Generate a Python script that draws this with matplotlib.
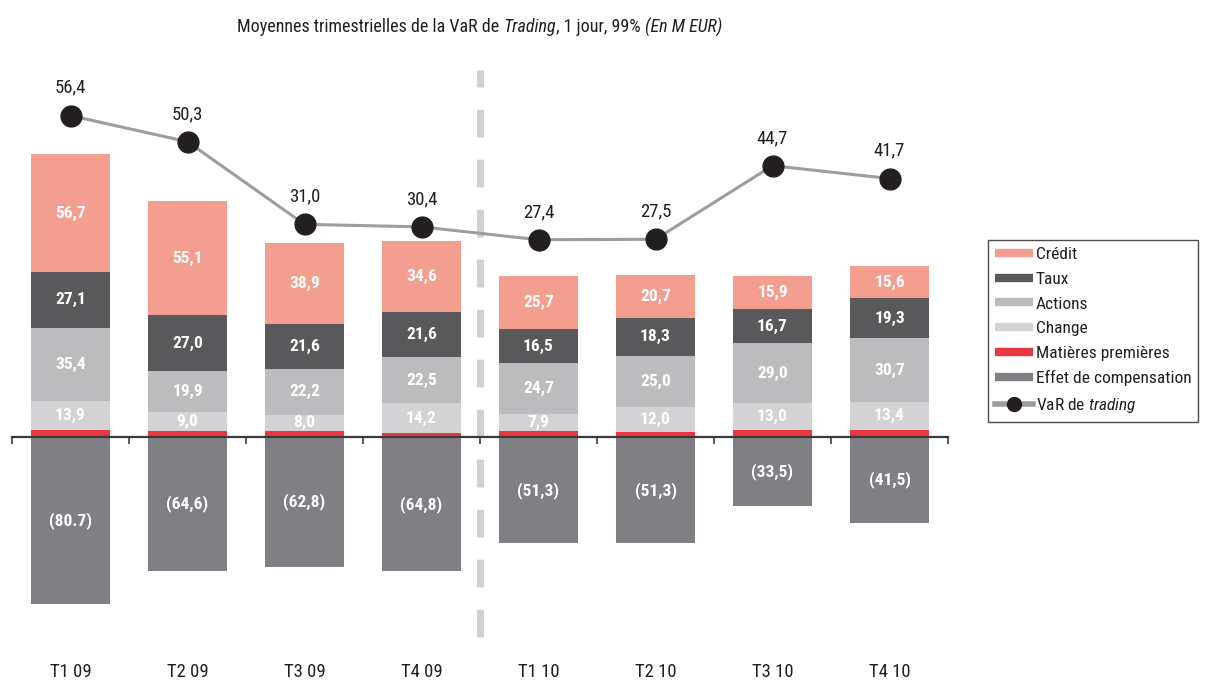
import matplotlib
matplotlib.use("Agg")
import matplotlib.pyplot as plt
import numpy as np
from matplotlib import font_manager
from matplotlib.lines import Line2D
from matplotlib.transforms import blended_transform_factory

names = {f.name for f in font_manager.fontManager.ttflist}
FONT = "DejaVu Sans"
for cand in ["Liberation Sans Narrow", "Roboto Condensed", "Open Sans Condensed", "Roboto", "Liberation Sans"]:
    if cand in names:
        FONT = cand
        break
plt.rcParams['font.family'] = [FONT, 'DejaVu Sans']
plt.rcParams['mathtext.fontset'] = 'custom'
plt.rcParams['mathtext.rm'] = FONT
plt.rcParams['mathtext.it'] = FONT + ':italic'
plt.rcParams['lines.scale_dashes'] = False

categories = ["T1 09", "T2 09", "T3 09", "T4 09", "T1 10", "T2 10", "T3 10", "T4 10"]
matieres = [3.4, 3.0, 2.8, 2.0, 3.0, 2.3, 3.2, 3.6]
change = [13.9, 9.0, 8.0, 14.2, 7.9, 12.0, 13.0, 13.4]
actions = [35.4, 19.9, 22.2, 22.5, 24.7, 25.0, 29.0, 30.7]
taux = [27.1, 27.0, 21.6, 21.6, 16.5, 18.3, 16.7, 19.3]
credit = [56.7, 55.1, 38.9, 34.6, 25.7, 20.7, 15.9, 15.6]
compensation = [-80.7, -64.6, -62.8, -64.8, -51.3, -51.3, -33.5, -41.5]
compensation_labels = ["(80.7)", "(64,6)", "(62,8)", "(64,8)", "(51,3)", "(51,3)", "(33,5)", "(41,5)"]
var_trading = [56.4, 50.3, 31.0, 30.4, 27.4, 27.5, 44.7, 41.7]

C_CREDIT = "#F49E8F"
C_TAUX = "#59595B"
C_ACTIONS = "#BCBCBE"
C_CHANGE = "#D3D3D5"
C_MP = "#E8373E"
C_COMP = "#808084"
C_LINE = "#9D9D9D"
C_DOT = "#231F20"

W, H = 1205, 681
fig = plt.figure(figsize=(W / 100, H / 100), dpi=100)
ax_left, ax_right = 12, 948
ax_top, ax_bot = 50, 650
ax = fig.add_axes([ax_left / W, 1 - ax_bot / H, (ax_right - ax_left) / W, (ax_bot - ax_top) / H])

base_px = 437
sc1 = 2.07
ax.set_ylim(-(ax_bot - base_px) / sc1, (base_px - ax_top) / sc1)
n = len(categories)
x = np.arange(n)
ax.set_xlim(-0.5, n - 0.5)
bw = 0.67

def fmt(v):
    return f"{v:.1f}".replace(".", ",")

series = [(matieres, C_MP, False), (change, C_CHANGE, True), (actions, C_ACTIONS, True),
          (taux, C_TAUX, True), (credit, C_CREDIT, True)]
bottom = np.zeros(n)
for vals, col, lab in series:
    vals = np.array(vals)
    ax.bar(x, vals, bw, bottom=bottom, color=col, linewidth=0, zorder=1)
    if lab:
        for xi, b, v in zip(x, bottom, vals):
            ax.text(xi, b + v / 2, fmt(v), ha='center', va='center', color='white',
                    fontsize=12.5, fontweight='bold', zorder=3)
    bottom = bottom + vals
comp = np.array(compensation)
ax.bar(x, comp, bw, color=C_COMP, linewidth=0, zorder=1)
for xi, v, l in zip(x, comp, compensation_labels):
    ax.text(xi, v / 2, l, ha='center', va='center', color='white', fontsize=12.5,
            fontweight='bold', zorder=3)

# vertical dashed separator between 2009 and 2010
ax.axvline(3.5, ymin=(ax_bot - 637) / (ax_bot - ax_top), ymax=(ax_bot - 70) / (ax_bot - ax_top),
           color="#D0D0D2", lw=5, dashes=(20, 16), zorder=0.5)

# axis at zero
for s in ['top', 'right', 'left']:
    ax.spines[s].set_visible(False)
ax.spines['bottom'].set_position(('data', 0))
ax.spines['bottom'].set_color("#3A3A3A")
ax.spines['bottom'].set_linewidth(1.6)
ax.set_xticks(np.arange(-0.5, n, 1.0))
ax.set_xticklabels([])
ax.tick_params(axis='x', direction='out', length=5, width=1.2, color="#3A3A3A")
ax.set_yticks([])
trans = blended_transform_factory(ax.transData, fig.transFigure)
for xi, c in zip(x, categories):
    ax.text(xi, 1 - 672 / H, c, transform=trans, ha='center', va='center', fontsize=13.5, color=C_DOT)

# secondary axis for VaR line
ax2 = ax.twinx()
zero2 = 357
sc2 = 4.28
ax2.set_ylim(-(ax_bot - zero2) / sc2, (zero2 - ax_top) / sc2)
ax2.set_xlim(-0.5, n - 0.5)
ax2.axis('off')
ax2.plot(x, var_trading, color=C_LINE, lw=2.2, marker='o', markersize=15,
         markerfacecolor=C_DOT, markeredgecolor=C_DOT, zorder=3)
for xi, v in zip(x, var_trading):
    ax2.annotate(fmt(v), (xi, v), xytext=(0, 20), textcoords='offset points',
                 ha='center', va='center', fontsize=13.5, color=C_DOT)

# title built from pieces (mixed upright / italic)
title_parts = [("Moyennes trimestrielles de la VaR de ", 'normal'), ("Trading", 'italic'),
               (", 1 jour, 99% ", 'normal'), ("(En M EUR)", 'italic')]
fig.canvas.draw()
renderer = fig.canvas.get_renderer()
tmp = []
total_w = 0
for s, st in title_parts:
    t = fig.text(0, 0, s, fontsize=13, style=st, color=C_DOT)
    bb = t.get_window_extent(renderer)
    tmp.append((t, bb.width))
    total_w += bb.width
xpos = 480 - total_w / 2
for t, w in tmp:
    t.set_position((xpos / W, 1 - 27 / H))
    t.set_va('center')
    t.set_ha('left')
    xpos += w

# legend
handles = [
    Line2D([], [], color=C_CREDIT, lw=6, solid_capstyle='butt'),
    Line2D([], [], color=C_TAUX, lw=6, solid_capstyle='butt'),
    Line2D([], [], color=C_ACTIONS, lw=6, solid_capstyle='butt'),
    Line2D([], [], color=C_CHANGE, lw=6, solid_capstyle='butt'),
    Line2D([], [], color=C_MP, lw=6, solid_capstyle='butt'),
    Line2D([], [], color=C_COMP, lw=6, solid_capstyle='butt'),
    Line2D([], [], color=C_LINE, lw=4, marker='o', markersize=10, markerfacecolor=C_DOT,
           markeredgecolor=C_DOT),
]
labels = ["Crédit", "Taux", "Actions", "Change", "Matières premières", "Effet de compensation",
          r"VaR de $\mathit{trading}$"]
leg = fig.legend(handles, labels, loc='upper left', bbox_to_anchor=(988 / W, 1 - 240 / H),
                 frameon=True, fancybox=False, edgecolor='#231F20', fontsize=12.5,
                 handlelength=2.2, handletextpad=0.15, labelspacing=0.55, borderpad=0.4,
                 borderaxespad=0)
leg.get_frame().set_linewidth(1.0)
for t in leg.get_texts():
    t.set_color(C_DOT)

fig.savefig("out.png", dpi=100, facecolor='white')
